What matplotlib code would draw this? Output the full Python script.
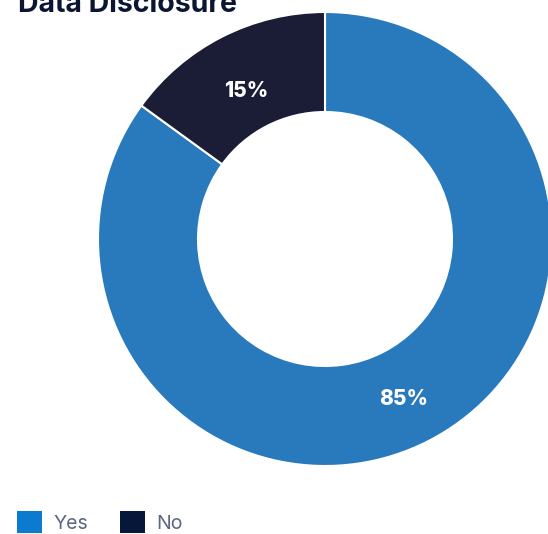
import matplotlib.pyplot as plt
from matplotlib.patches import Patch

labels = ["Yes", "No"]
shares = [85, 15]
slice_colors = ["#2979bd", "#1b1c35"]
legend_colors = ["#0b7bd0", "#06173a"]

W, H = 548, 534
fig = plt.figure(figsize=(W / 100, H / 100), dpi=100)
ax = fig.add_axes([0, 0, 1, 1])

wedges, texts, autotexts = ax.pie(
    shares,
    colors=slice_colors,
    startangle=90,
    counterclock=False,
    center=(325, H - 239),
    radius=227,
    pctdistance=0.76,
    autopct="%d%%",
    wedgeprops=dict(width=100, edgecolor="white", linewidth=1.5),
    textprops=dict(color="white", fontsize=15, fontweight="heavy", family="Inter"),
)
# percentage labels sit a little below the wedge midpoint
for t in autotexts:
    x, y = t.get_position()
    t.set_position((x, y - 6))

ax.set_xlim(0, W)
ax.set_ylim(0, H)
ax.set_aspect("auto")
ax.axis("off")

ax.text(18, H - 12, "Data Disclosure", fontsize=20.5, fontweight="bold",
        family="Inter", color="#0b1633", va="baseline", ha="left")

handles = [Patch(facecolor=c, edgecolor="none", label=l) for c, l in zip(legend_colors, labels)]
fig.legend(handles=handles, loc="center left", bbox_to_anchor=(17 / W, (H - 522) / H),
           ncol=2, frameon=False, borderpad=0, borderaxespad=0,
           handlelength=1.3, handleheight=1.3, handletextpad=0.6, columnspacing=1.6,
           prop=dict(family="Inter", size=14), labelcolor="#5b6580")

fig.savefig("out.png", dpi=100)
